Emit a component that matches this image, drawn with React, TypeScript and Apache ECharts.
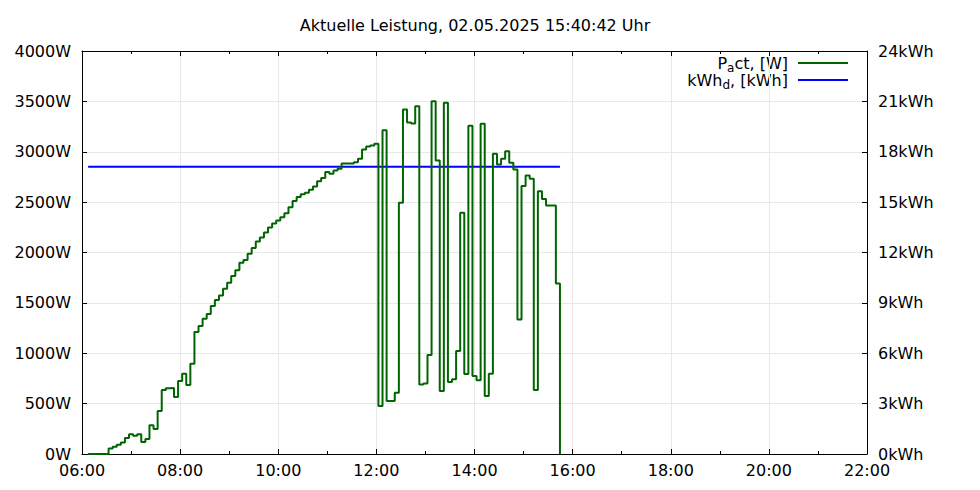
import React, { useEffect, useRef } from "react";
import * as echarts from "echarts";

const TITLE = "Aktuelle Leistung, 02.05.2025 15:40:42 Uhr";

// Sample times (start of each step) and power values in W
const times: string[] = [
  "06:07:30", "06:12:30", "06:17:30", "06:22:30", "06:27:30", "06:32:30", "06:37:30", "06:42:30", "06:47:30", "06:52:30", "06:57:30",
  "07:02:30", "07:07:30", "07:12:30", "07:17:30", "07:22:30", "07:27:30", "07:32:30", "07:37:30", "07:42:30", "07:47:30", "07:52:30", "07:57:30",
  "08:02:30", "08:07:30", "08:12:30", "08:17:30", "08:22:30", "08:27:30", "08:32:30", "08:37:30", "08:42:30", "08:47:30", "08:52:30", "08:57:30",
  "09:02:30", "09:07:30", "09:12:30", "09:17:30", "09:22:30", "09:27:30", "09:32:30", "09:37:30", "09:42:30", "09:47:30", "09:52:30", "09:57:30",
  "10:02:30", "10:07:30", "10:12:30", "10:17:30", "10:22:30", "10:27:30", "10:32:30", "10:37:30", "10:42:30", "10:47:30", "10:52:30", "10:57:30",
  "11:02:30", "11:07:30", "11:12:30", "11:17:30", "11:22:30", "11:27:30", "11:32:30", "11:37:30", "11:42:30", "11:47:30", "11:52:30", "11:57:30",
  "12:02:30", "12:07:30", "12:12:30", "12:17:30", "12:22:30", "12:27:30", "12:32:30", "12:37:30", "12:42:30", "12:47:30", "12:52:30", "12:57:30",
  "13:02:30", "13:07:30", "13:12:30", "13:17:30", "13:22:30", "13:27:30", "13:32:30", "13:37:30", "13:42:30", "13:47:30", "13:52:30", "13:57:30",
  "14:02:30", "14:07:30", "14:12:30", "14:17:30", "14:22:30", "14:27:30", "14:32:30", "14:37:30", "14:42:30", "14:47:30", "14:52:30", "14:57:30",
  "15:02:30", "15:07:30", "15:12:30", "15:17:30", "15:22:30", "15:27:30", "15:32:30", "15:39:30", "15:44:30",
];

const power: number[] = [
  0, 0, 0, 0, 0, 54, 73, 93, 113, 159, 195,
  182, 195, 119, 149, 285, 248, 427, 635, 652, 655, 565, 724,
  796, 684, 895, 1210, 1270, 1343, 1389, 1468, 1528, 1574, 1641, 1700,
  1766, 1825, 1899, 1925, 1988, 2044, 2110, 2150, 2199, 2249, 2289, 2318,
  2350, 2390, 2450, 2510, 2550, 2578, 2593, 2623, 2656, 2708, 2740, 2798,
  2782, 2814, 2831, 2884, 2884, 2884, 2897, 2930, 3023, 3053, 3062, 3079,
  476, 3214, 526, 526, 609, 2494, 3420, 3290, 3280, 3452, 690, 700,
  982, 3502, 2913, 625, 3486, 714, 741, 1022, 2395, 795, 3258, 774,
  731, 3278, 575, 797, 2980, 2874, 2930, 3006, 2891, 2824, 1336, 2659,
  2765, 2732, 635, 2609, 2530, 2467, 2467, 1693, 0,
];

// Daily energy (kWh)
const kwhdTimes: string[] = ["06:07:30", "15:44:30"];
const kwhd: number[] = [17.1, 17.1];

const xTicks = [6, 8, 10, 12, 14, 16, 18, 20, 22];

const toHours = (s: string) => {
  const [h, m, sec] = s.split(":").map(Number);
  return h + m / 60 + (sec || 0) / 3600;
};

const FONT = "DejaVu Sans";
const GREEN = "#006400";
const BLUE = "#0000ff";

const legendRich = {
  n: { fontFamily: FONT, fontSize: 16, verticalAlign: "top", color: "#000" },
  s: { fontFamily: FONT, fontSize: 12, verticalAlign: "top", padding: [7, 0, 0, 0], color: "#000" },
};

export default function App() {
  const ref = useRef<HTMLDivElement>(null);

  useEffect(() => {
    if (!ref.current) return;
    const chart = echarts.init(ref.current, null, { renderer: "svg" });

    const pData = times.map((t, i) => [toHours(t), power[i]]);
    const kData = kwhdTimes.map((t, i) => [toHours(t), kwhd[i]]);

    const fmtX = (v: number) => (v < 10 ? "0" + v : "" + v) + ":00";

    const baseX = {
      type: "value",
      min: xTicks[0],
      max: xTicks[xTicks.length - 1],
      interval: 2,
      axisLine: { show: true, onZero: false, lineStyle: { color: "#000", width: 1 } },
      axisTick: { show: true, inside: true, length: 5, lineStyle: { color: "#000" } },
      minorTick: { show: true, splitNumber: 2, length: 3, lineStyle: { color: "#000" } },
    };

    const option: any = {
      animation: false,
      backgroundColor: "#fff",
      textStyle: { fontFamily: FONT },
      grid: { left: 82, right: 113, top: 51, bottom: 36, containLabel: false },
      xAxis: [
        {
          ...baseX,
          position: "bottom",
          axisLabel: { formatter: fmtX, color: "#000", fontSize: 16, fontFamily: FONT, margin: 8 },
          splitLine: { show: true, lineStyle: { color: "#e8e8e8", width: 1 } },
        },
        {
          ...baseX,
          position: "top",
          axisLabel: { show: false },
          splitLine: { show: false },
        },
      ],
      yAxis: [
        {
          type: "value",
          min: 0,
          max: 4000,
          interval: 500,
          position: "left",
          axisLine: { show: true, lineStyle: { color: "#000", width: 1 } },
          axisTick: { show: true, inside: true, length: 5, lineStyle: { color: "#000" } },
          axisLabel: { formatter: (v: number) => v + "W", color: "#000", fontSize: 16, fontFamily: FONT, margin: 11 },
          splitLine: { show: true, lineStyle: { color: "#e8e8e8", width: 1 } },
        },
        {
          type: "value",
          min: 0,
          max: 24,
          interval: 3,
          position: "right",
          axisLine: { show: true, lineStyle: { color: "#000", width: 1 } },
          axisTick: { show: true, inside: true, length: 5, lineStyle: { color: "#000" } },
          axisLabel: { formatter: (v: number) => v + "kWh", color: "#000", fontSize: 16, fontFamily: FONT, margin: 11 },
          splitLine: { show: false },
        },
      ],
      series: [
        {
          name: "Pact",
          type: "line",
          step: "end",
          xAxisIndex: 0,
          yAxisIndex: 0,
          data: pData,
          showSymbol: false,
          symbol: "none",
          lineStyle: { color: GREEN, width: 2 },
          z: 3,
        },
        {
          name: "kWhd",
          type: "line",
          xAxisIndex: 0,
          yAxisIndex: 1,
          data: kData,
          showSymbol: false,
          symbol: "none",
          lineStyle: { color: BLUE, width: 2 },
          z: 2,
        },
      ],
      graphic: [
        {
          type: "text",
          x: 475,
          y: 25,
          style: {
            text: TITLE,
            align: "center",
            verticalAlign: "middle",
            fill: "#000",
            fontFamily: FONT,
            fontSize: 16,
          },
        },
        {
          type: "text",
          x: 788,
          y: 55,
          style: {
            text: "{n|P}{s|a}{n|ct, [W]}",
            align: "right",
            verticalAlign: "top",
            fill: "#000",
            rich: legendRich,
          },
        },
        {
          type: "text",
          x: 788,
          y: 72,
          style: {
            text: "{n|kWh}{s|d}{n|, [kWh]}",
            align: "right",
            verticalAlign: "top",
            fill: "#000",
            rich: legendRich,
          },
        },
        {
          type: "line",
          shape: { x1: 798, y1: 63, x2: 848, y2: 63 },
          style: { stroke: GREEN, lineWidth: 2 },
        },
        {
          type: "line",
          shape: { x1: 798, y1: 80, x2: 848, y2: 80 },
          style: { stroke: BLUE, lineWidth: 2 },
        },
      ],
    };

    chart.setOption(option);
    return () => chart.dispose();
  }, []);

  return (
    <div
      ref={ref}
      style={{ position: "absolute", left: 0, top: 0, width: 980, height: 490, background: "#fff" }}
    />
  );
}
